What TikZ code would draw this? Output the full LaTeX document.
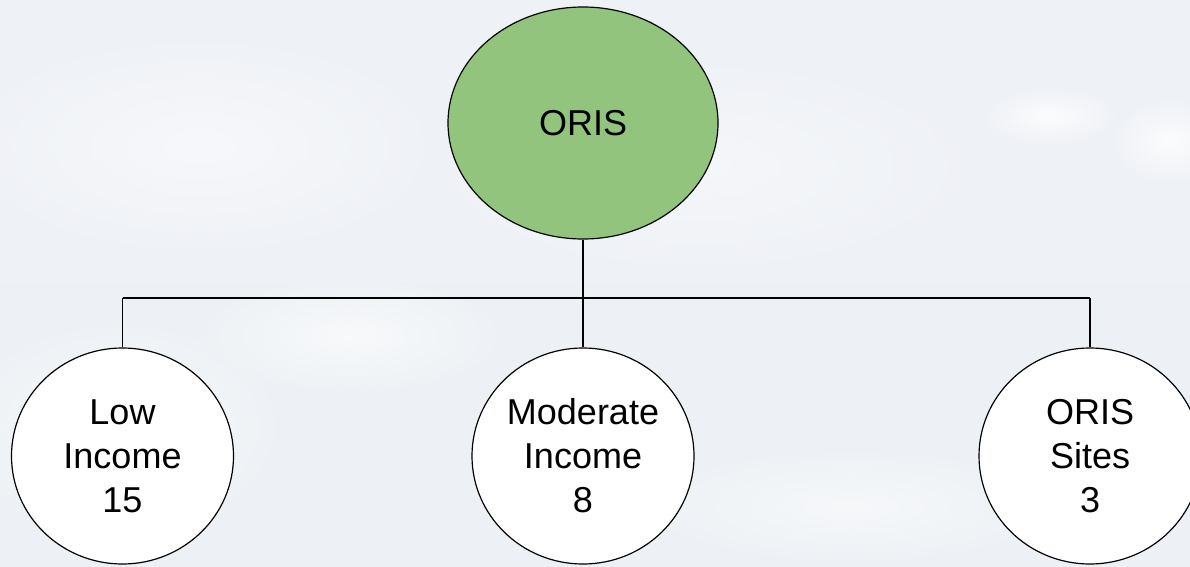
\documentclass[tikz,border=0pt]{standalone}
\usepackage{fontspec}
\setmainfont{Liberation Sans}
\usetikzlibrary{shapes.geometric,fadings}
\definecolor{bgtop}{RGB}{238,241,246}
\definecolor{bgbot}{RGB}{237,241,245}
\definecolor{rootgreen}{RGB}{146,196,125}
\tikzfading[name=softblob, inner color=transparent!0, outer color=transparent!100]
\tikzset{
  rootnode/.style={ellipse, draw=black, line width=1.2pt, fill=rootgreen,
    minimum width=270pt, minimum height=232pt, inner sep=0pt,
    font=\fontsize{36}{44}\selectfont},
  leafnode/.style={ellipse, draw=black, line width=1.2pt, fill=white,
    minimum width=222pt, minimum height=216pt, inner sep=0pt, align=center,
    font=\fontsize{36}{44}\selectfont},
  conn/.style={draw=black, line width=1.2pt},
  cloudblob/.style={white, path fading=softblob}
}
\begin{document}
\begin{tikzpicture}[x=1pt,y=1pt]
\useasboundingbox (0,0) rectangle (1190,566);
\shade[top color=bgtop, bottom color=bgbot] (0,0) rectangle (1190,566);
% soft clouds
\fill[cloudblob, opacity=0.8] (1050,450) ellipse (70 and 30);
\fill[cloudblob, opacity=0.8] (1170,425) ellipse (60 and 45);
\fill[cloudblob, opacity=0.6] (350,230) ellipse (160 and 60);
\fill[cloudblob, opacity=0.6] (120,140) ellipse (170 and 110);
\fill[cloudblob, opacity=0.5] (850,60) ellipse (220 and 60);
\fill[cloudblob, opacity=0.5] (200,420) ellipse (260 and 120);
\fill[cloudblob, opacity=0.4] (700,400) ellipse (300 and 120);
% nodes
\node[rootnode] (root) at (583,443) {ORIS};
\node[leafnode] (low) at (122.5,110) {Low\\Income\\15};
\node[leafnode] (mod) at (583,110) {Moderate\\Income\\8};
\node[leafnode] (sites) at (1090,110) {ORIS\\Sites\\3};
% connectors
\coordinate (busL) at (122.5,268);
\coordinate (busM) at (583,268);
\coordinate (busR) at (1090,268);
\draw[conn] (root.south) -- (busM);
\draw[conn] (busL) -- (busR);
\draw[conn] (busL) -- (low.north);
\draw[conn] (busM) -- (mod.north);
\draw[conn] (busR) -- (sites.north);
\end{tikzpicture}
\end{document}
